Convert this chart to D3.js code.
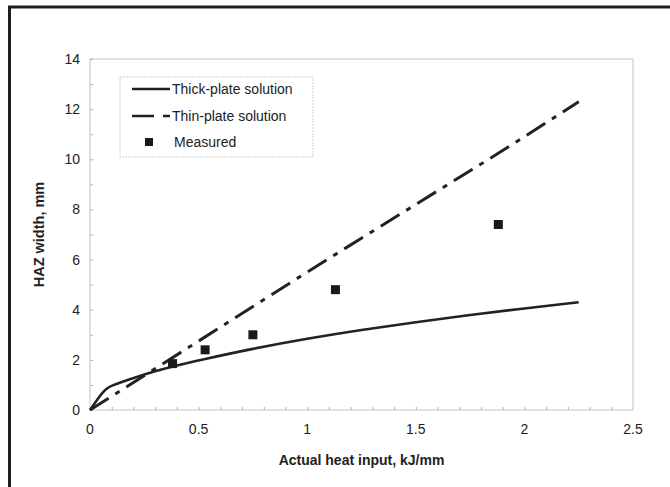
<!DOCTYPE html>
<html>
<head>
<meta charset="utf-8">
<script src="https://cdn.jsdelivr.net/npm/d3@7"></script>
<style>
  body { margin: 0; background: #fff; }
  text { font-family: "Liberation Sans", Arial, sans-serif; fill: #222; }
</style>
</head>
<body>
<div id="chart"></div>
<script>
// values
const thickPlate = [
  [0, 0], [0.03, 0.38], [0.06, 0.72], [0.08, 0.88], [0.1, 0.97], [0.15, 1.13],
  [0.2, 1.28], [0.3, 1.55], [0.4, 1.78], [0.5, 1.98], [0.75, 2.45], [1.0, 2.85],
  [1.25, 3.2], [1.5, 3.5], [1.75, 3.8], [2.0, 4.05], [2.25, 4.3]
];
const thinPlate = [
  [0, 0], [0.5, 2.75], [1.0, 5.5], [1.5, 8.2], [2.0, 10.9], [2.25, 12.3]
];
const measured = [
  [0.38, 1.85], [0.53, 2.4], [0.75, 3.0], [1.13, 4.8], [1.88, 7.4]
];
const xTicks = [0, 0.5, 1, 1.5, 2, 2.5];
const yTicks = [0, 2, 4, 6, 8, 10, 12, 14];
const legendItems = ["Thick-plate solution", "Thin-plate solution", "Measured"];

const W = 670, H = 487;
const plot = {left: 90, right: 633, top: 59, bottom: 410};

const svg = d3.select("#chart").append("svg")
  .attr("width", W).attr("height", H);

// outer frame (only top and left edges show in the crop)
svg.append("rect")
  .attr("x", 9.5).attr("y", 7)
  .attr("width", W + 20).attr("height", H + 20)
  .attr("fill", "none").attr("stroke", "#1e1e1e").attr("stroke-width", 3);

const xScale = d3.scaleLinear().domain([0, 2.5]).range([plot.left, plot.right]);
const yScale = d3.scaleLinear().domain([0, 14]).range([plot.bottom, plot.top]);

// plot area frame
svg.append("rect")
  .attr("x", plot.left).attr("y", plot.top)
  .attr("width", plot.right - plot.left).attr("height", plot.bottom - plot.top)
  .attr("fill", "none").attr("stroke", "#c4c4c4").attr("stroke-width", 1);

// minor ticks (inside)
const xAxis = d3.axisTop(xScale).tickValues(d3.range(0, 25).map(i => i / 10)).tickSize(3).tickFormat("");
svg.append("g").attr("transform", `translate(0,${plot.bottom})`).call(xAxis)
  .call(g => g.select(".domain").remove())
  .selectAll("line").attr("stroke", "#b0b0b0");
const yAxis = d3.axisRight(yScale).tickValues(d3.range(0, 15)).tickSize(3).tickFormat("");
svg.append("g").attr("transform", `translate(${plot.left},0)`).call(yAxis)
  .call(g => g.select(".domain").remove())
  .selectAll("line").attr("stroke", "#b0b0b0");

// tick labels
svg.append("g").selectAll("text").data(xTicks).join("text")
  .attr("x", d => xScale(d)).attr("y", plot.bottom + 24)
  .attr("text-anchor", "middle").attr("font-size", 14)
  .text(d => d);
svg.append("g").selectAll("text").data(yTicks).join("text")
  .attr("x", plot.left - 10).attr("y", d => yScale(d) + 5)
  .attr("text-anchor", "end").attr("font-size", 14)
  .text(d => d);

// axis titles
svg.append("text")
  .attr("x", (plot.left + plot.right) / 2).attr("y", 465)
  .attr("text-anchor", "middle").attr("font-size", 14).attr("font-weight", "bold")
  .text("Actual heat input, kJ/mm");
svg.append("text")
  .attr("transform", `translate(44,${(plot.top + plot.bottom) / 2}) rotate(-90)`)
  .attr("text-anchor", "middle").attr("font-size", 14.5).attr("font-weight", "bold")
  .text("HAZ width, mm");

const line = d3.line()
  .x(d => xScale(d[0]))
  .y(d => yScale(d[1]));

svg.append("path").datum(thinPlate)
  .attr("d", line.curve(d3.curveMonotoneX))
  .attr("fill", "none").attr("stroke", "#222").attr("stroke-width", 3)
  .attr("stroke-dasharray", "22,8,5,8");

svg.append("path").datum(thickPlate)
  .attr("d", line.curve(d3.curveBasis))
  .attr("fill", "none").attr("stroke", "#222").attr("stroke-width", 2.6);

svg.append("g").selectAll("rect").data(measured).join("rect")
  .attr("x", d => xScale(d[0]) - 4.5).attr("y", d => yScale(d[1]) - 4.5)
  .attr("width", 9).attr("height", 9).attr("fill", "#1a1a1a");

// legend
const lg = svg.append("g");
lg.append("rect")
  .attr("x", 120).attr("y", 77).attr("width", 193).attr("height", 80)
  .attr("fill", "#fff").attr("stroke", "#d0d0d0").attr("stroke-width", 1)
  .attr("stroke-dasharray", "2,1");
const rowY = [89, 116, 142];
lg.append("line").attr("x1", 132).attr("x2", 170).attr("y1", rowY[0]).attr("y2", rowY[0])
  .attr("stroke", "#222").attr("stroke-width", 2.6);
lg.append("line").attr("x1", 132).attr("x2", 170).attr("y1", rowY[1]).attr("y2", rowY[1])
  .attr("stroke", "#222").attr("stroke-width", 2.6).attr("stroke-dasharray", "22,9,7");
lg.append("rect").attr("x", 145).attr("y", rowY[2] - 4).attr("width", 8).attr("height", 8)
  .attr("fill", "#1a1a1a");
lg.selectAll("text.lab").data(legendItems).join("text")
  .attr("class", "lab")
  .attr("x", (d, i) => i === 2 ? 174 : 172).attr("y", (d, i) => rowY[i] + 5)
  .attr("font-size", 14)
  .text(d => d);
</script>
</body>
</html>
